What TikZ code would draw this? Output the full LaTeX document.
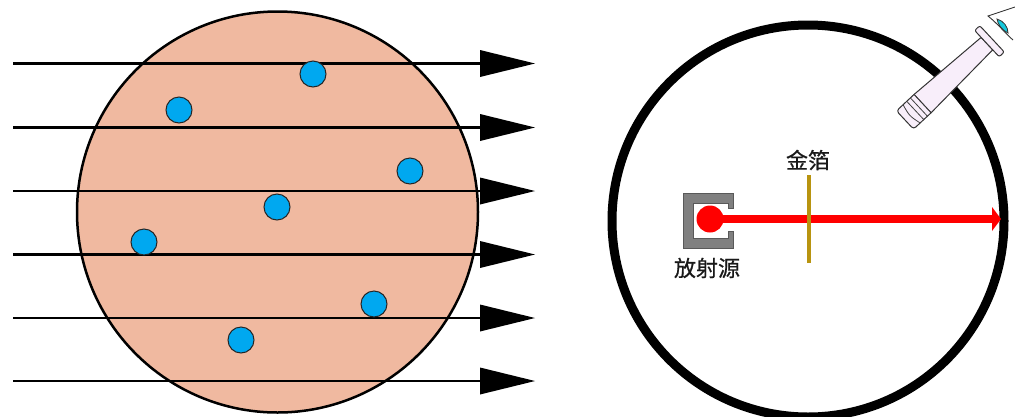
\documentclass[tikz,border=0pt]{standalone}
\usepackage{fontspec}
\newfontfamily\cjkfont[FakeBold=0.7]{Noto Sans CJK SC}
\usetikzlibrary{arrows.meta}
\definecolor{discfill}{RGB}{240,185,160}
\definecolor{dotblue}{RGB}{0,168,240}
\definecolor{foilgold}{RGB}{184,148,16}
\definecolor{srcgray}{RGB}{128,128,128}
\definecolor{tubefill}{RGB}{248,238,250}
\definecolor{irisc}{RGB}{20,200,220}
\begin{document}
\begin{tikzpicture}[x=1pt,y=-1pt,
  ray/.style={line width=2.3pt, -{Triangle[length=55pt,width=27pt,line width=0pt]}},
  nucleus/.style={circle, draw=black!85, line width=1pt, fill=dotblue,
    minimum size=26pt, inner sep=0pt},
  beam/.style={red, line width=8.5pt, -{Triangle[length=9pt,width=24pt,line width=0pt]}},
  foil/.style={foilgold, line width=3.5pt},
  cjklabel/.style={font=\cjkfont\fontsize{22pt}{24pt}\selectfont, text=black!90, inner sep=0pt},
  tubeline/.style={draw=black!80, line width=1pt, fill=tubefill, line join=round}]
\useasboundingbox (0,0) rectangle (1015,416);

% ---- left panel: alpha rays through a thin foil of atoms ----
\node[circle, draw, line width=2.5pt, fill=discfill, minimum size=401pt, inner sep=0pt]
  (disc) at (277.5,212) {};

\foreach \i/\y in {1/63.5,2/127.5,3/191,4/254.5,5/318,6/381} {
  \coordinate (ray\i-start) at (13,\y);
  \coordinate (ray\i-end) at (535,\y);
  \draw[ray] (ray\i-start) -- (ray\i-end);
}

\node[nucleus] (n1) at (313,74) {};
\node[nucleus] (n2) at (179,110) {};
\node[nucleus] (n3) at (410,171) {};
\node[nucleus] (n4) at (277,207) {};
\node[nucleus] (n5) at (144,242) {};
\node[nucleus] (n6) at (374,304) {};
\node[nucleus] (n7) at (241,340) {};

% ---- right panel: scattering chamber ----
\node[circle, draw, line width=9pt, minimum size=392pt, inner sep=0pt]
  (chamber) at (808,221) {};

% lead box around the source, open towards the foil
\draw[fill=srcgray, draw=black!65, line width=0.8pt]
  (683,193) -- (733,193) -- (733,208) -- (728,208) -- (728,203) -- (693,203)
  -- (693,238) -- (728,238) -- (728,231) -- (733,231) -- (733,248) -- (683,248) -- cycle;

\node[circle, fill=red, minimum size=27pt, inner sep=0pt] (emitter) at (710,219) {};
\coordinate (beam-end) at (1001,219);
\draw[beam] (emitter.center) -- (beam-end);

\coordinate (foil-top) at (809,175);
\coordinate (foil-bottom) at (809,263);
\draw[foil] (foil-top) -- (foil-bottom);

\node[cjklabel] (foil-label) at (808,160) {金箔};
\node[cjklabel] (source-label) at (707,268) {放射源};

% microscope pointing into the chamber
\begin{scope}[shift={(905,120)}, rotate=43]
  \path[tubeline] (24,-12.5) -- (112,-8.5) -- (112,8.5) -- (24,12.5) -- cycle;
  \path[tubeline, rounded corners=3pt] (24,-12.5) -- (0,-12.5) -- (0,12.5) -- (24,12.5);
  \draw[draw=black!80, line width=0.9pt] (24,-12.5) -- (24,12.5);
  \draw[black!75, line width=0.8pt] (9,-12.5) .. controls (6,0) .. (9,12.5);
  \draw[black!75, line width=0.8pt] (14,-12.5) -- (14,12.5);
  \draw[black!75, line width=0.8pt] (19,-12.5) -- (19,12.5);
  \path[tubeline, rounded corners=2pt] (112,-18) rectangle (119,18);
\end{scope}

% observer's eye at the eyepiece
\draw[black!80, line width=0.9pt] (1015,7) -- (988,16) .. controls (998,24) and (1006,34) .. (1013,40);
\draw[black!80, line width=0.8pt, fill=irisc]
  (997,19) .. controls (1004,21) and (1008,27) .. (1008,33)
  .. controls (1002,30) and (998,25) .. cycle;
\end{tikzpicture}
\end{document}
